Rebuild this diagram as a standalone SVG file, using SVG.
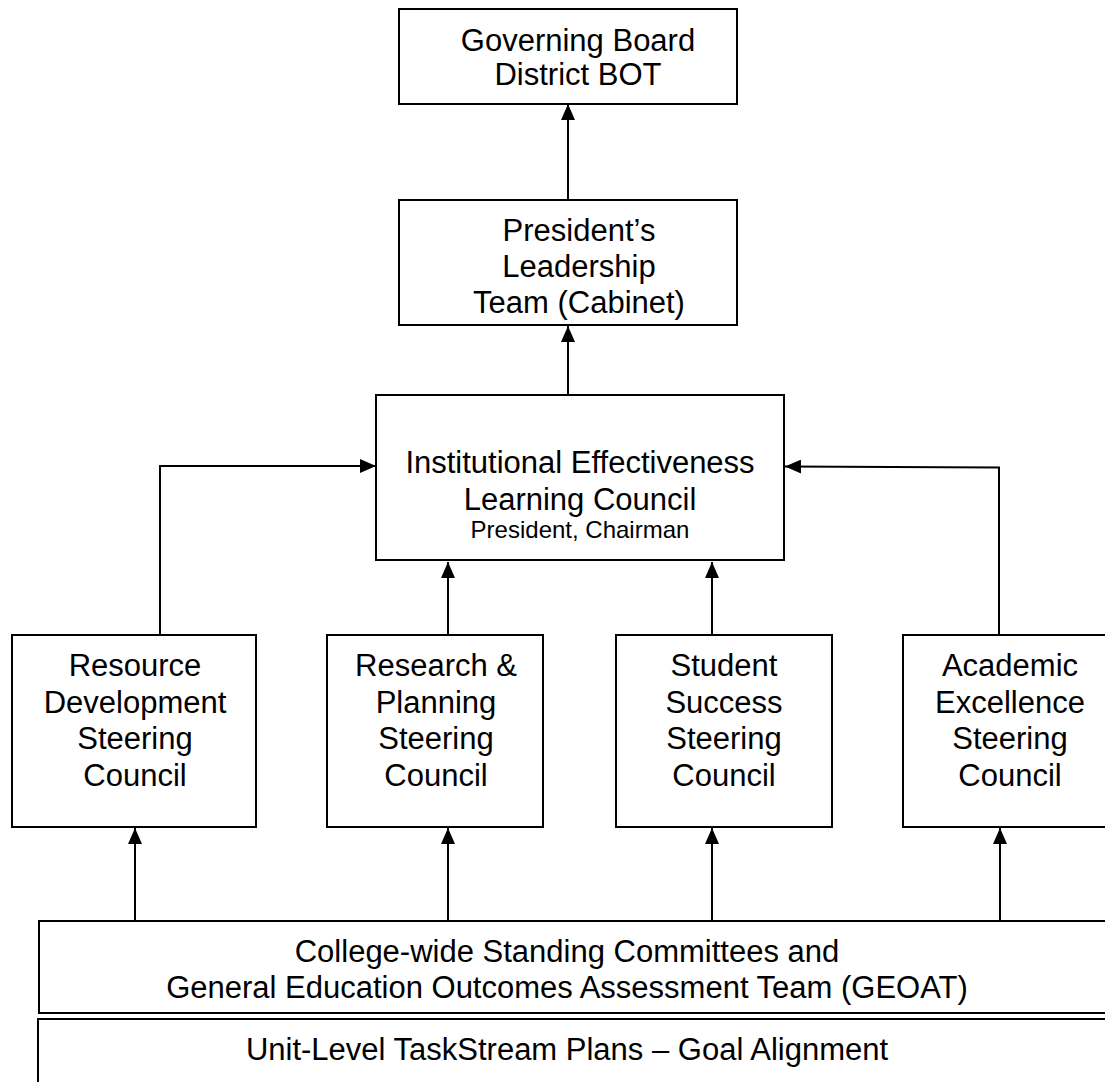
<svg xmlns="http://www.w3.org/2000/svg" width="1105" height="1082" viewBox="0 0 1105 1082">
<style>
.box{fill:#fff;stroke:#000;stroke-width:2}
.t{font-family:"Liberation Sans",Arial,sans-serif;font-size:31px;fill:#000;text-anchor:middle}
.s{font-size:24px}
.c{fill:none;stroke:#000;stroke-width:2}
</style>
<defs>
<marker id="ah" markerWidth="16" markerHeight="14" refX="16" refY="7" orient="auto" markerUnits="userSpaceOnUse">
<path d="M0,0 L16,7 L0,14 Z" fill="#000"/>
</marker>
</defs>
<rect width="1105" height="1082" fill="#fff"/>
<g id="connectors">
<path class="c" d="M568,200 V104" marker-end="url(#ah)"/>
<path class="c" d="M568,395 V326" marker-end="url(#ah)"/>
<path class="c" d="M160,635 V466 H376" marker-end="url(#ah)"/>
<path class="c" d="M999,636 V467.5 L785,466.5" marker-end="url(#ah)"/>
<path class="c" d="M448,635 V562" marker-end="url(#ah)"/>
<path class="c" d="M712,635 V562" marker-end="url(#ah)"/>
<path class="c" d="M135,921 V828" marker-end="url(#ah)"/>
<path class="c" d="M448,921 V828" marker-end="url(#ah)"/>
<path class="c" d="M712,921 V828" marker-end="url(#ah)"/>
<path class="c" d="M1000,921 V828" marker-end="url(#ah)"/>
</g>
<g id="governing-board">
<rect class="box" x="399" y="9" width="338" height="95"/>
<text class="t" x="578" y="51">Governing Board</text>
<text class="t" x="578" y="85">District BOT</text>
</g>
<g id="presidents-leadership-team">
<rect class="box" x="399" y="200" width="338" height="125"/>
<text class="t" x="579" y="241">President’s</text>
<text class="t" x="579" y="277">Leadership</text>
<text class="t" x="579" y="313">Team (Cabinet)</text>
</g>
<g id="ie-learning-council">
<rect class="box" x="376" y="395" width="408" height="165"/>
<text class="t" x="580" y="473">Institutional Effectiveness</text>
<text class="t" x="580" y="510">Learning Council</text>
<text class="t s" x="580" y="538">President, Chairman</text>
</g>
<g id="resource-development">
<rect class="box" x="12" y="635" width="244" height="192"/>
<text class="t" x="135" y="676">Resource</text>
<text class="t" x="135" y="713">Development</text>
<text class="t" x="135" y="749">Steering</text>
<text class="t" x="135" y="786">Council</text>
</g>
<g id="research-planning">
<rect class="box" x="327" y="635" width="216" height="192"/>
<text class="t" x="436" y="676">Research &amp;</text>
<text class="t" x="436" y="713">Planning</text>
<text class="t" x="436" y="749">Steering</text>
<text class="t" x="436" y="786">Council</text>
</g>
<g id="student-success">
<rect class="box" x="616" y="635" width="216" height="192"/>
<text class="t" x="724" y="676">Student</text>
<text class="t" x="724" y="713">Success</text>
<text class="t" x="724" y="749">Steering</text>
<text class="t" x="724" y="786">Council</text>
</g>
<g id="academic-excellence">
<rect class="box" x="903" y="635" width="214" height="192"/>
<text class="t" x="1010" y="676">Academic</text>
<text class="t" x="1010" y="713">Excellence</text>
<text class="t" x="1010" y="749">Steering</text>
<text class="t" x="1010" y="786">Council</text>
</g>
<g id="standing-committees">
<rect class="box" x="39" y="921" width="1080" height="92"/>
<text class="t" x="567" y="962">College-wide Standing Committees and</text>
<text class="t" x="567" y="998">General Education Outcomes Assessment Team (GEOAT)</text>
</g>
<g id="unit-level-plans">
<rect class="box" x="38" y="1019" width="1080" height="80"/>
<text class="t" x="567" y="1060">Unit-Level TaskStream Plans – Goal Alignment</text>
</g>
</svg>
